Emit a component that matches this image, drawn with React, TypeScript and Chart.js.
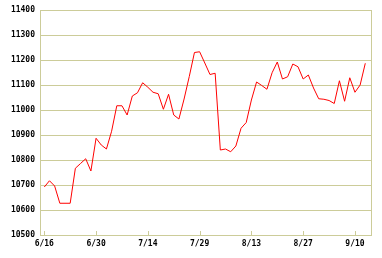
import React, { useEffect, useRef } from "react";
import { Chart, registerables } from "chart.js";

Chart.register(...registerables);

const values: number[] = [
  10692, 10717, 10696, 10627, 10627, 10627, 10767, 10786, 10805, 10756,
  10887, 10860, 10844, 10915, 11017, 11017, 10980, 11056, 11069, 11109,
  11091, 11071, 11065, 11003, 11063, 10980, 10964, 11044, 11134, 11230,
  11233, 11188, 11142, 11147, 10840, 10844, 10833, 10856, 10927, 10950,
  11040, 11112, 11098, 11083, 11149, 11192, 11124, 11133, 11184, 11173,
  11124, 11140, 11088, 11045, 11043, 11038, 11026, 11117, 11035, 11129,
  11071, 11100, 11187,
];

const tickLabels: string[] = ["6/16", "6/30", "7/14", "7/29", "8/13", "8/27", "9/10"];
const tickIndices: number[] = [0, 10, 20, 30, 40, 50, 60];

const yMin = 10500;
const yMax = 11400;
const yStep = 100;

const GRID = "rgb(204,204,153)";

const frame = {
  id: "frame",
  afterDraw(chart: any) {
    const { ctx, chartArea, scales } = chart;
    ctx.save();
    ctx.strokeStyle = GRID;
    ctx.lineWidth = 1;
    ctx.beginPath();
    const r = Math.round(chartArea.right) + 0.5;
    ctx.moveTo(r, Math.round(chartArea.top));
    ctx.lineTo(r, Math.round(chartArea.bottom) + 1);
    const b = Math.round(chartArea.bottom);
    for (const t of scales.x.ticks) {
      const px = Math.round(scales.x.getPixelForValue(t.value)) + 0.5;
      ctx.moveTo(px, b - 4);
      ctx.lineTo(px, b);
    }
    ctx.stroke();
    ctx.restore();
  },
};

export default function App() {
  const ref = useRef<HTMLCanvasElement | null>(null);
  useEffect(() => {
    if (!ref.current) return;
    const chart = new Chart(ref.current, {
      type: "line",
      data: {
        datasets: [
          {
            data: values.map((v, i) => ({ x: i, y: v })),
            borderColor: "#ff0000",
            borderWidth: 1,
            pointRadius: 0,
            tension: 0,
            fill: false,
          },
        ],
      },
      options: {
        animation: false,
        responsive: false,
        events: [],
        layout: { padding: { top: 10, right: 11, left: 0, bottom: 0 } },
        plugins: { legend: { display: false }, tooltip: { enabled: false } },
        scales: {
          x: {
            type: "linear",
            min: -0.83,
            max: 63.1,
            afterBuildTicks: (scale: any) => {
              scale.ticks = tickIndices.map((v) => ({ value: v }));
            },
            afterFit: (scale: any) => {
              scale.height = 23;
            },
            grid: { display: true, drawOnChartArea: false, drawTicks: false },
            border: { display: true, color: GRID },
            ticks: {
              autoSkip: false,
              maxRotation: 0,
              padding: 4,
              color: "#000",
              font: { family: "DejaVu Sans Mono", size: 8, weight: "bold" },
              callback: (v: any) => {
                const k = tickIndices.indexOf(Number(v));
                return k >= 0 ? tickLabels[k] : "";
              },
            },
          },
          y: {
            type: "linear",
            min: yMin,
            max: yMax,
            afterFit: (scale: any) => {
              scale.width = 40;
            },
            grid: { color: GRID, drawTicks: false },
            border: { display: true, color: GRID },
            ticks: {
              stepSize: yStep,
              padding: 5,
              color: "#000",
              font: { family: "DejaVu Sans Mono", size: 8, weight: "bold" },
              callback: (v: any) => String(v),
            },
          },
        },
      },
      plugins: [frame],
    } as any);
    return () => chart.destroy();
  }, []);
  return (
    <div style={{ position: "absolute", left: 0, top: 0, width: 382, height: 258, background: "#fff" }}>
      <canvas ref={ref} width={382} height={258} style={{ display: "block" }} />
    </div>
  );
}
